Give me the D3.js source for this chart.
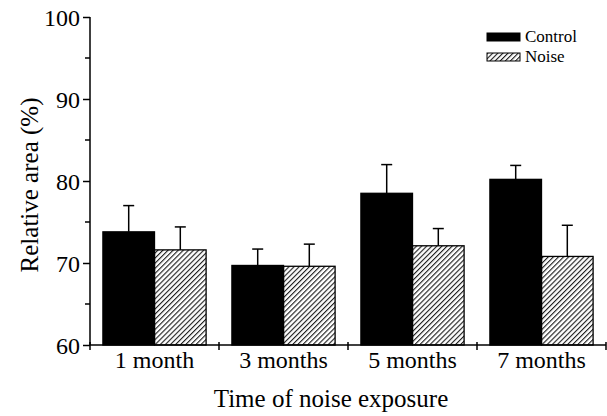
<!DOCTYPE html>
<html>
<head>
<meta charset="utf-8">
<script src="https://cdn.jsdelivr.net/npm/d3@7"></script>
<style>
  body { margin: 0; background: #fff; }
</style>
</head>
<body>
<svg id="chart" width="607" height="416"></svg>
<script>
// Data
const categories = ["1 month", "3 months", "5 months", "7 months"];
const series = ["Control", "Noise"];
const controlMean = [73.8, 69.7, 78.5, 80.2];
const controlErr = [3.2, 2.0, 3.5, 1.7];
const noiseMean = [71.6, 69.6, 72.1, 70.8];
const noiseErr = [2.8, 2.7, 2.1, 3.8];
const yTicks = [60, 70, 80, 90, 100];
const yMinorTicks = [65, 75, 85, 95];

const serif = "'Liberation Serif', 'Times New Roman', serif";
const svg = d3.select("#chart");

// Hatch pattern for the noise bars
const defs = svg.append("defs");
defs.append("pattern")
    .attr("id", "hatch")
    .attr("patternUnits", "userSpaceOnUse")
    .attr("width", 3.6)
    .attr("height", 10)
    .attr("patternTransform", "rotate(45)")
  .append("line")
    .attr("x1", 0.6).attr("y1", 0)
    .attr("x2", 0.6).attr("y2", 10)
    .attr("stroke", "#000")
    .attr("stroke-width", 1);

// Scales
const x = d3.scaleBand().domain(categories).range([90, 606]);
const xs = d3.scaleBand().domain(series).range([0, x.bandwidth()]).paddingInner(0).paddingOuter(0.25);
const y = d3.scaleLinear().domain([60, 100]).range([345, 17]);

// Build rows from the arrays
const rows = categories.map((c, i) => [
    { cat: c, s: "Control", v: controlMean[i], e: controlErr[i] },
    { cat: c, s: "Noise", v: noiseMean[i], e: noiseErr[i] }
]).flat();

const cx = d => x(d.cat) + xs(d.s) + xs.bandwidth() / 2;

// Error bars (upper half only)
const err = svg.append("g").attr("stroke", "#000").attr("stroke-width", 1.5);
err.selectAll(".stem")
    .data(rows)
    .enter().append("line")
    .attr("x1", cx).attr("x2", cx)
    .attr("y1", d => y(d.v))
    .attr("y2", d => y(d.v + d.e));
err.selectAll(".cap")
    .data(rows)
    .enter().append("line")
    .attr("x1", d => cx(d) - 5.5)
    .attr("x2", d => cx(d) + 5.5)
    .attr("y1", d => y(d.v + d.e))
    .attr("y2", d => y(d.v + d.e));

// Bars
svg.append("g").selectAll("rect")
    .data(rows)
    .enter().append("rect")
    .attr("x", d => x(d.cat) + xs(d.s))
    .attr("y", d => y(d.v))
    .attr("width", xs.bandwidth())
    .attr("height", d => y(60) - y(d.v))
    .attr("fill", d => d.s === "Control" ? "#000" : "url(#hatch)")
    .attr("stroke", "#000")
    .attr("stroke-width", 1.3);

// Y axis
const yAxis = svg.append("g")
    .attr("transform", "translate(90,0)")
    .call(d3.axisLeft(y).tickValues(yTicks).tickSize(7).tickPadding(3).tickFormat(d3.format("d")));
yAxis.attr("font-family", null).attr("font-size", null);
yAxis.selectAll(".tick text")
    .style("font-family", serif)
    .style("font-size", "24px")
    .attr("fill", "#000")
    .attr("dy", "0.34em");
yAxis.select(".domain").attr("d", `M0,${y(100)}V${y(60)}`).attr("stroke-width", 1.5);
yAxis.selectAll(".tick line").attr("stroke-width", 1.5);
svg.append("g").selectAll("line")
    .data(yMinorTicks)
    .enter().append("line")
    .attr("x1", 85).attr("x2", 90)
    .attr("y1", d => y(d)).attr("y2", d => y(d))
    .attr("stroke", "#000").attr("stroke-width", 1.5);

// X axis: baseline, boundary ticks, centred labels
svg.append("line")
    .attr("x1", 90).attr("x2", 606)
    .attr("y1", y(60)).attr("y2", y(60))
    .attr("stroke", "#000").attr("stroke-width", 1.5);
const bounds = categories.map(c => x(c)).concat([x.range()[1]]);
svg.append("g").selectAll("line")
    .data(bounds)
    .enter().append("line")
    .attr("x1", d => d).attr("x2", d => d)
    .attr("y1", y(60) - 3).attr("y2", y(60) + 5)
    .attr("stroke", "#000").attr("stroke-width", 1.5);
svg.append("g").selectAll("text")
    .data(categories)
    .enter().append("text")
    .attr("x", d => x(d) + x.bandwidth() / 2)
    .attr("y", 368)
    .attr("text-anchor", "middle")
    .style("font-family", serif)
    .style("font-size", "24px")
    .text(d => d);

// Axis titles
svg.append("text")
    .attr("x", 331).attr("y", 407)
    .attr("text-anchor", "middle")
    .style("font-family", serif)
    .style("font-size", "25px")
    .text("Time of noise exposure");
svg.append("text")
    .attr("transform", "translate(38,185) rotate(-90)")
    .attr("text-anchor", "middle")
    .style("font-family", serif)
    .style("font-size", "25px")
    .text("Relative area (%)");

// Legend
const legend = svg.append("g").selectAll("g")
    .data(series)
    .enter().append("g")
    .attr("transform", (d, i) => `translate(487,${33 + i * 20})`);
legend.append("rect")
    .attr("width", 33).attr("height", 8)
    .attr("fill", d => d === "Control" ? "#000" : "url(#hatch)")
    .attr("stroke", "#000").attr("stroke-width", 1);
legend.append("text")
    .attr("x", 38).attr("y", 9)
    .style("font-family", serif)
    .style("font-size", "17px")
    .text(d => d);
</script>
</body>
</html>
